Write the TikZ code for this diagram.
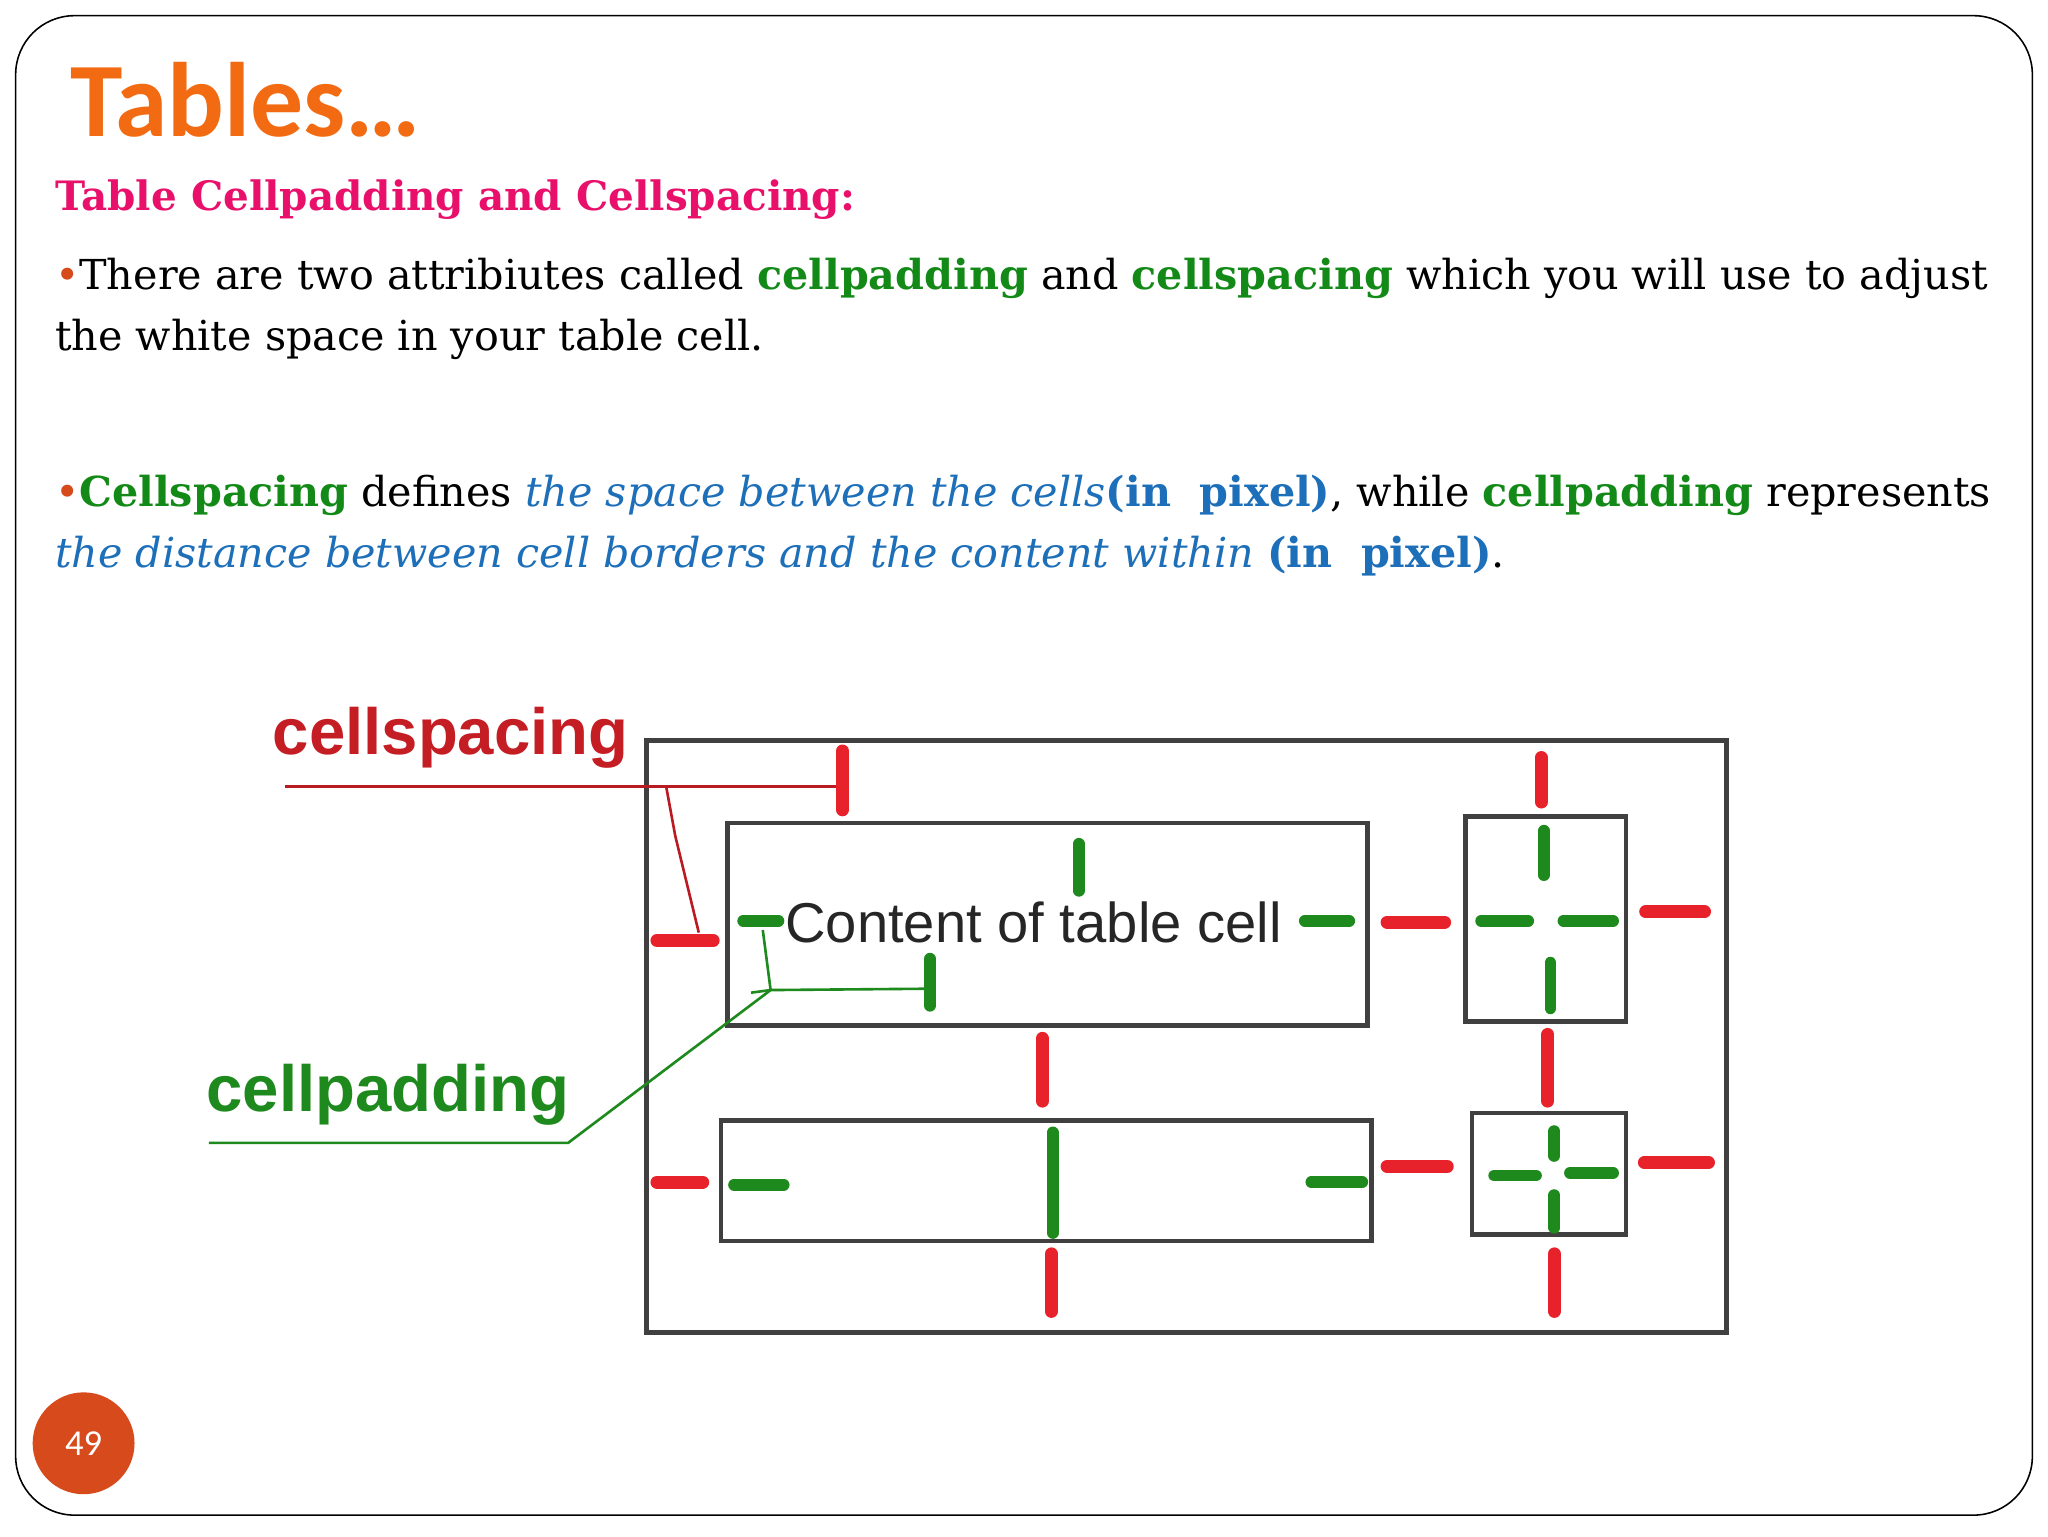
\documentclass[tikz,border=0pt]{standalone}
\usepackage{fontspec}
\setmainfont{DejaVu Serif}
\newfontfamily\titlefont{Carlito}
\newfontfamily\armfont{Liberation Sans}
\definecolor{ttl}{HTML}{F26B12}
\definecolor{pinkc}{HTML}{E8106A}
\definecolor{grn}{HTML}{138A17}
\definecolor{blu}{HTML}{1C6FB8}
\definecolor{rd}{HTML}{E8222A}
\definecolor{gd}{HTML}{1E8A1E}
\definecolor{pg}{HTML}{D64A1C}
\begin{document}
\begin{tikzpicture}[x=1pt,y=-1pt,
  txt/.style={anchor=west,inner sep=0pt,font=\fontsize{31.6}{40}\selectfont},
  cellbox/.style={draw=black!75,line width=3.5pt},
  rdash/.style={draw=rd,line width=10pt,line cap=round},
  gdash/.style={draw=gd,line width=9pt,line cap=round}]
\useasboundingbox (0,0) rectangle (1568,1176);
\fill[white] (0,0) rectangle (1568,1176);
\draw[black,line width=1.2pt,rounded corners=45pt] (12,12) rectangle (1556,1160);
\node[txt,font=\titlefont\bfseries\fontsize{81}{82}\selectfont,text=ttl] (title) at (54,76) {Tables…};
\node[txt,font=\bfseries\fontsize{31}{40}\selectfont,text=pinkc] (hd) at (42,153) {Table Cellpadding and Cellspacing:};
\node[txt] (l1) at (42,213) {\textcolor{pg}{•}There are two attribiutes called \textcolor{grn}{\bfseries cellpadding} and \textcolor{grn}{\bfseries cellspacing} which you will use to adjust};
\node[txt] (l2) at (42,260) {the white space in your table cell.};
\node[txt] (l3) at (42,379) {\textcolor{pg}{•}\textcolor{grn}{\bfseries Cellspacing} defines \textcolor{blu}{\itshape the space between the cells}\textcolor{blu}{\bfseries(in\ \ pixel)}, while \textcolor{grn}{\bfseries cellpadding} represents};
\node[txt] (l4) at (42,426) {\textcolor{blu}{\itshape the distance between cell borders and the content within} \textcolor{blu}{\bfseries(in\ \ pixel)}.};
% diagram
\draw[cellbox] (495,567) rectangle (1322,1020);
\draw[cellbox] (557,630) rectangle (1047,785);
\draw[cellbox] (1122,625) rectangle (1245,782);
\draw[cellbox] (552,858) rectangle (1050,950);
\draw[cellbox] (1127,852) rectangle (1245,945);
\node[font=\armfont\fontsize{43}{43}\selectfont,text=black!85,anchor=west,inner sep=0pt] (ct) at (601,706) {Content of table cell};
% red
\foreach \a/\b in {{645,575}/{645,620},{1180,580}/{1180,614},{798,795}/{798,843},{1185,792}/{1185,843},{805,960}/{805,1004},{1190,960}/{1190,1004}}
  \draw[rdash] (\a) -- (\b);
\foreach \a/\b in {{503,720}/{546,720},{1062,706}/{1106,706},{1260,698}/{1305,698},{503,905}/{538,905},{1062,893}/{1108,893},{1259,890}/{1308,890}}
  \draw[rdash] (\a) -- (\b);
% green
\foreach \a/\b in {{826,646}/{826,682},{712,734}/{712,770},{1182,636}/{1182,670},{1187,737}/{1187,772},{806,867}/{806,944},{1190,866}/{1190,885},{1190,915}/{1190,940}}
  \draw[gdash] (\a) -- (\b);
\foreach \a/\b in {{569,705}/{596,705},{999,705}/{1033,705},{1134,705}/{1170,705},{1197,705}/{1235,705},{562,907}/{600,907},{1004,905}/{1043,905},{1144,900}/{1176,900},{1202,898}/{1235,898}}
  \draw[gdash] (\a) -- (\b);
% labels
\node[font=\armfont\bfseries\fontsize{50}{50}\selectfont,text=rd!85!black,inner sep=0pt] (cs) at (345,565) {cellspacing};
\node[font=\armfont\bfseries\fontsize{50}{50}\selectfont,text=gd,inner sep=0pt] (cp) at (297,838) {cellpadding};
\coordinate (r1) at (218,602); \coordinate (r2) at (640,602); \coordinate (r3) at (510,602); \coordinate (r4) at (535,714);
\draw[rd!80!black,line width=2.5pt] (r1) -- (r2);
\draw[rd!80!black,line width=2pt] (r3) -- (517,640) -- (r4);
\coordinate (g1) at (160,875); \coordinate (g2) at (435,875); \coordinate (g3) at (590,758); \coordinate (g4) at (708,757);
\draw[gd,line width=2pt] (g1) -- (g2) -- (g3) -- (g4);
\draw[gd,line width=2pt] (g3) -- (584,712);
\draw[gd,line width=2pt] (575,760) -- (g3);
% page number
\fill[pg] (64,1105) circle (39);
\node[font=\titlefont\fontsize{28}{28}\selectfont,text=white] (pn) at (64,1105) {49};
\end{tikzpicture}
\end{document}
